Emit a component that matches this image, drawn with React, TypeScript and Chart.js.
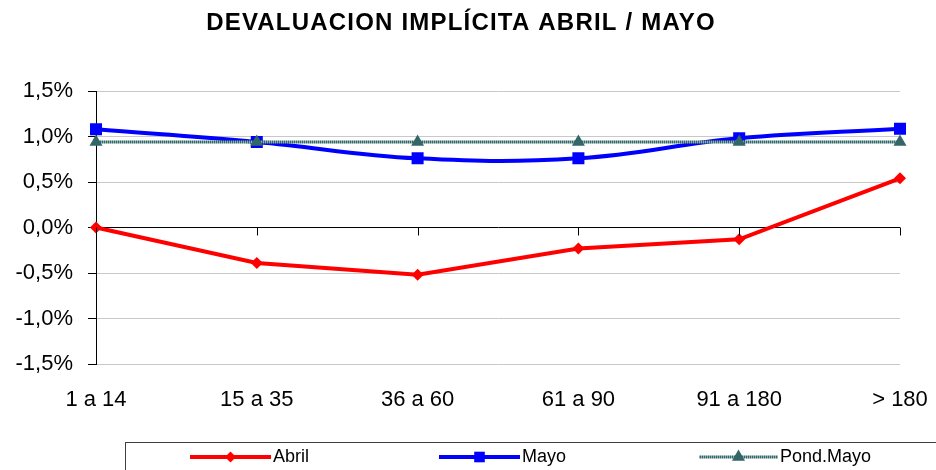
import React, { useEffect, useRef } from 'react';
import { Chart, registerables } from 'chart.js';

Chart.register(...registerables);

const title = 'DEVALUACION IMPLÍCITA ABRIL / MAYO';
const categories = ['1 a 14', '15 a 35', '36 a 60', '61 a 90', '91 a 180', '> 180'];
const abril = [0.0, -0.39, -0.52, -0.23, -0.13, 0.54];
const mayo = [1.08, 0.94, 0.76, 0.76, 0.98, 1.085];
const pondMayo = [0.94, 0.94, 0.94, 0.94, 0.94, 0.94];
const yTicks = [-1.5, -1.0, -0.5, 0.0, 0.5, 1.0, 1.5];
const seriesLabels = ['Abril', 'Mayo', 'Pond.Mayo'];

const FONT = 'Arial, "Liberation Sans", sans-serif';

const fmt = (v: number) => v.toFixed(1).replace('.', ',') + '%';

export default function App() {
  const ref = useRef<HTMLCanvasElement | null>(null);

  useEffect(() => {
    const canvas = ref.current!;
    // stippled pattern for the Pond.Mayo line
    const off = document.createElement('canvas');
    off.width = 2;
    off.height = 2;
    const octx = off.getContext('2d')!;
    octx.fillStyle = '#8fb0b0';
    octx.fillRect(0, 0, 2, 2);
    octx.fillStyle = '#336666';
    octx.fillRect(0, 0, 1, 2);
    const pattern = canvas.getContext('2d')!.createPattern(off, 'repeat')!;

    const legendItems = [
      { label: seriesLabels[0], color: '#ff0000', style: 'rectRot', r: 5.5, x0: 190, x1: 271, tx: 273 },
      { label: seriesLabels[1], color: '#0000ff', style: 'rect', r: 7.5, x0: 439, x1: 520, tx: 522 },
      { label: seriesLabels[2], color: '#336666', style: 'triangle', r: 7.5, x0: 699, x1: 778, tx: 780, line: pattern },
    ];

    function drawMarker(ctx: CanvasRenderingContext2D, style: string, r: number, x: number, y: number) {
      ctx.beginPath();
      if (style === 'rectRot') {
        ctx.moveTo(x, y - r);
        ctx.lineTo(x + r, y);
        ctx.lineTo(x, y + r);
        ctx.lineTo(x - r, y);
      } else if (style === 'rect') {
        const s = r * Math.SQRT1_2;
        ctx.rect(x - s, y - s, 2 * s, 2 * s);
      } else {
        ctx.moveTo(x, y - r);
        ctx.lineTo(x + r * 0.866, y + r * 0.5);
        ctx.lineTo(x - r * 0.866, y + r * 0.5);
      }
      ctx.closePath();
      ctx.fill();
    }

    const decor = {
      id: 'decor',
      afterDraw(chart: any) {
        const ctx = chart.ctx as CanvasRenderingContext2D;
        const xs = chart.scales.x;
        const ys = chart.scales.y;
        ctx.save();
        // title
        ctx.fillStyle = '#000';
        ctx.font = `bold 24px ${FONT}`;
        (ctx as any).letterSpacing = '1.2px';
        ctx.textAlign = 'center';
        ctx.textBaseline = 'middle';
        ctx.fillText(title, 461, 23);
        (ctx as any).letterSpacing = '0px';
        // tick marks below zero axis
        const y0 = ys.getPixelForValue(0);
        ctx.strokeStyle = '#000';
        ctx.lineWidth = 1;
        categories.forEach((_, i) => {
          const x = Math.round(xs.getPixelForValue(i)) + 0.5;
          ctx.beginPath();
          ctx.moveTo(x, y0);
          ctx.lineTo(x, y0 + 8);
          ctx.stroke();
        });
        // legend box
        ctx.strokeStyle = '#404040';
        ctx.lineWidth = 1;
        ctx.strokeRect(125.5, 442.5, 900, 100);
        const ly = 457;
        legendItems.forEach((it: any) => {
          ctx.strokeStyle = it.line || it.color;
          ctx.lineWidth = it.line ? 3 : 4;
          ctx.beginPath();
          ctx.moveTo(it.x0, ly);
          ctx.lineTo(it.x1, ly);
          ctx.stroke();
          ctx.fillStyle = it.color;
          drawMarker(ctx, it.style, it.r, (it.x0 + it.x1) / 2, ly);
          ctx.fillStyle = '#000';
          ctx.font = `18px ${FONT}`;
          ctx.textAlign = 'left';
          ctx.textBaseline = 'middle';
          ctx.fillText(it.label, it.tx, ly);
        });
        ctx.restore();
      },
    };

    const chart = new Chart(canvas, {
      type: 'line',
      data: {
        labels: categories,
        datasets: [
          {
            label: seriesLabels[0],
            data: abril,
            borderColor: '#ff0000',
            backgroundColor: '#ff0000',
            borderWidth: 4,
            pointStyle: 'rectRot',
            pointRadius: 6,
            pointBorderWidth: 0,
            pointBackgroundColor: '#ff0000',
            tension: 0,
            order: 2,
          },
          {
            label: seriesLabels[1],
            data: mayo,
            borderColor: '#0000ff',
            backgroundColor: '#0000ff',
            borderWidth: 4,
            pointStyle: 'rect',
            pointRadius: 8.5,
            pointBorderWidth: 0,
            pointBackgroundColor: '#0000ff',
            tension: 0.4,
            order: 1,
          },
          {
            label: seriesLabels[2],
            data: pondMayo,
            borderColor: pattern as any,
            backgroundColor: '#336666',
            borderWidth: 3,
            pointStyle: 'triangle',
            pointRadius: 7.5,
            pointBorderWidth: 0,
            pointBackgroundColor: '#336666',
            tension: 0,
            order: 0,
          },
        ],
      },
      options: {
        animation: false,
        responsive: false,
        layout: { padding: { top: 91, left: 0, right: 36, bottom: 0 } },
        plugins: {
          legend: { display: false },
          title: { display: false },
          tooltip: { enabled: false },
        },
        scales: {
          x: {
            offset: false,
            grid: { display: false, drawTicks: false },
            border: { display: false },
            ticks: {
              color: '#000',
              font: { family: FONT, size: 22 },
              padding: 23,
              maxRotation: 0,
              autoSkip: false,
            },
            afterFit: (s: any) => {
              s.height = 106;
              s.paddingLeft = 0;
              s.paddingRight = 0;
            },
          },
          y: {
            min: -1.5,
            max: 1.5,
            afterBuildTicks: (s: any) => {
              s.ticks = yTicks.map((v) => ({ value: v }));
            },
            afterFit: (s: any) => {
              s.width = 96;
            },
            grid: {
              color: (c: any) => (c.tick && c.tick.value === 0 ? '#000000' : '#c8c8c8'),
              tickColor: '#000000',
              tickLength: 8,
              lineWidth: 1,
            },
            border: { display: true, color: '#000000', width: 1 },
            ticks: {
              color: '#000',
              font: { family: FONT, size: 22 },
              padding: 15,
              callback: (v: any) => fmt(Number(v)),
            },
          },
        },
      },
      plugins: [decor],
    });

    return () => chart.destroy();
  }, []);

  return (
    <div style={{ position: 'absolute', left: 0, top: 0, width: 936, height: 470, background: '#fff' }}>
      <canvas ref={ref} width={936} height={470} style={{ display: 'block' }} />
    </div>
  );
}
